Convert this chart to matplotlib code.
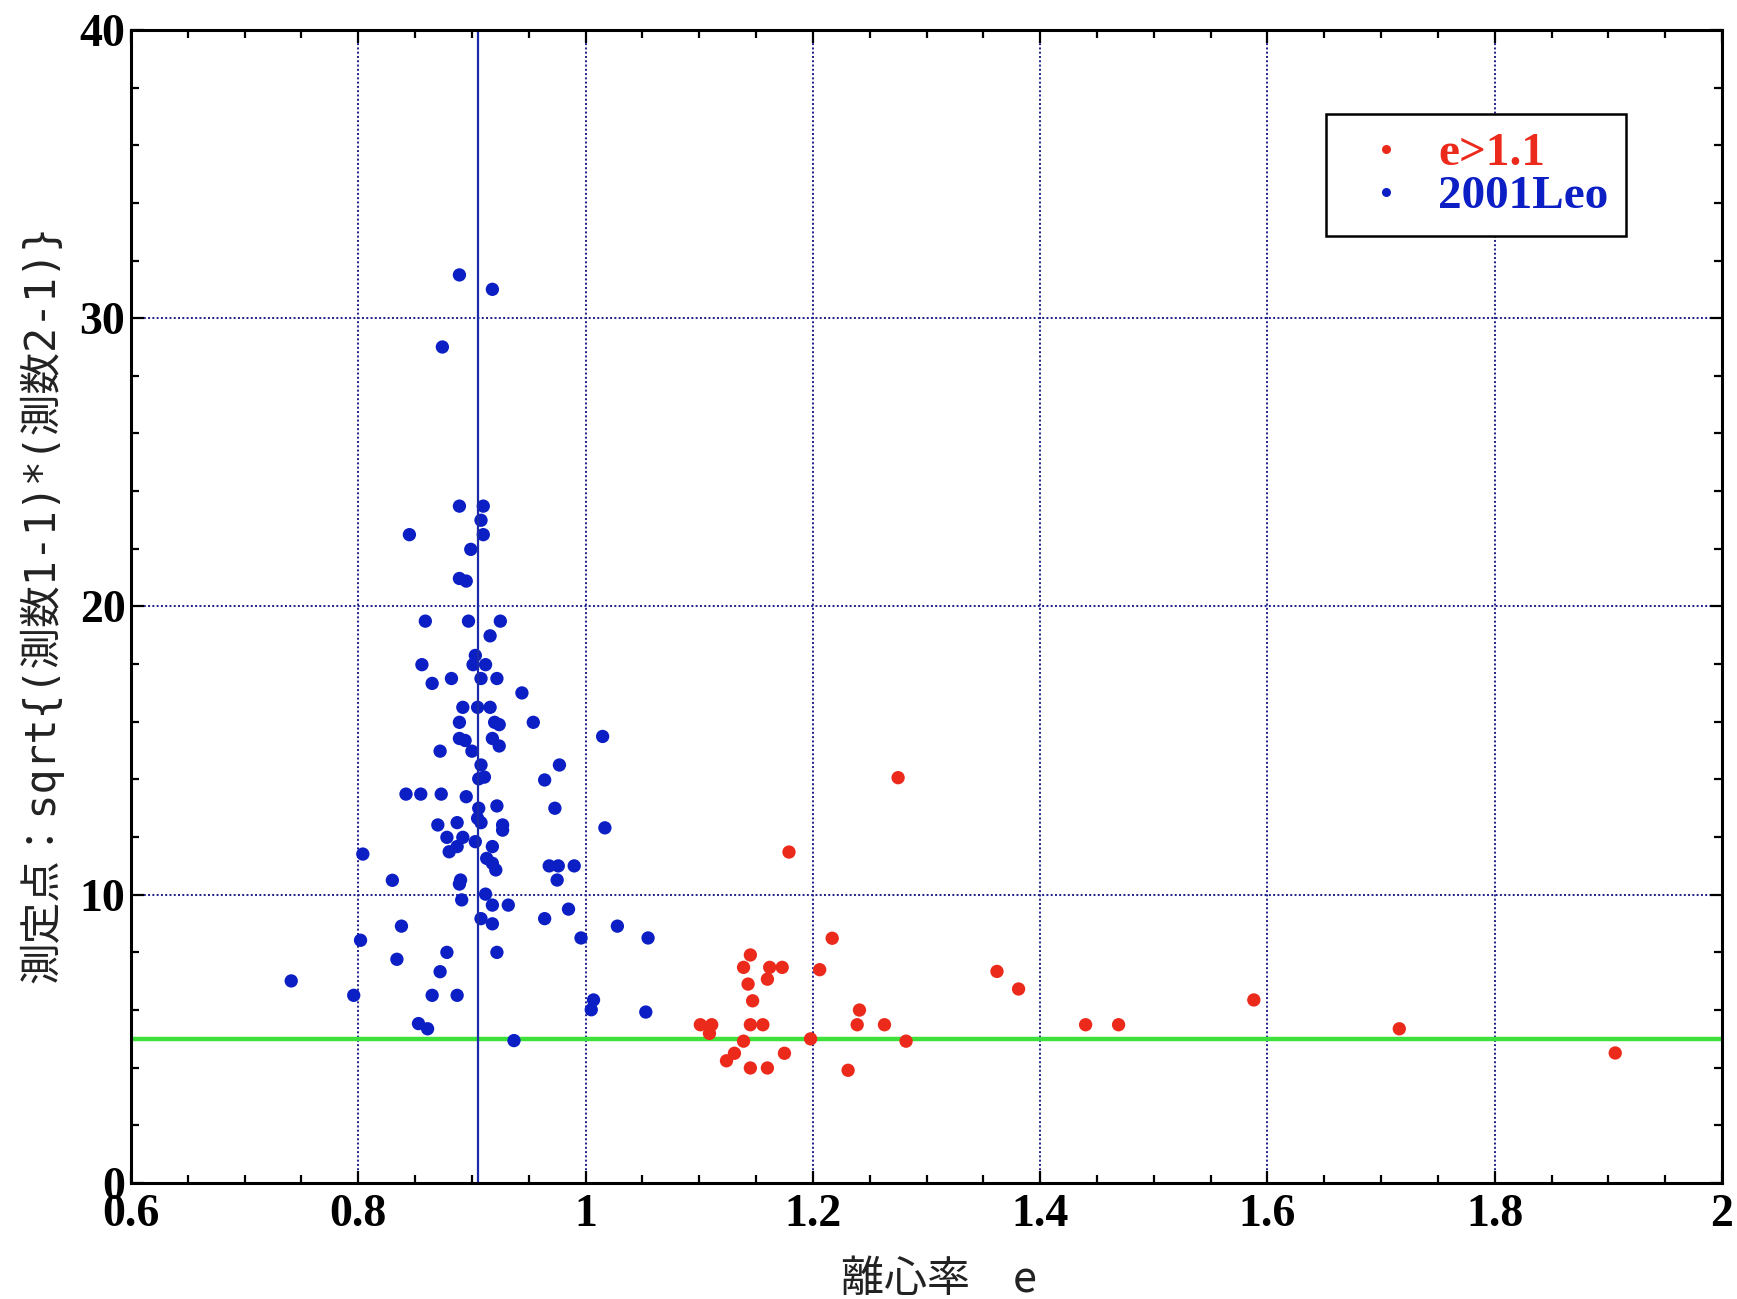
import matplotlib
matplotlib.use("Agg")
import matplotlib.pyplot as plt
from matplotlib.ticker import MultipleLocator
from matplotlib.lines import Line2D

# Orbital eccentricity and sqrt{(n1-1)*(n2-1)} for the 2001 Leonids
leo_e = [0.889, 0.918, 0.874, 0.889, 0.910, 0.908, 0.910, 0.845, 0.899, 0.889,
         0.895, 0.859, 0.897, 0.925, 0.916, 0.903, 0.901, 0.912, 0.856, 0.882,
         0.908, 0.922, 0.865, 0.944, 0.892, 0.905, 0.916, 0.889, 0.920, 0.924,
         0.954, 1.015, 0.889, 0.894, 0.918, 0.924, 0.872, 0.900, 0.977, 0.908,
         0.906, 0.911, 0.964, 0.842, 0.855, 0.873, 0.895, 0.922, 0.906, 0.973,
         0.905, 0.908, 0.870, 0.887, 0.927, 0.927, 1.017, 0.878, 0.892, 0.903,
         0.887, 0.880, 0.918, 0.804, 0.913, 0.918, 0.921, 0.968, 0.976, 0.990,
         0.830, 0.890, 0.889, 0.975, 0.912, 0.891, 0.918, 0.932, 0.985, 0.964,
         0.908, 0.918, 0.838, 1.028, 0.802, 0.996, 1.055, 0.878, 0.922, 0.834,
         0.872, 0.741, 0.796, 0.865, 0.887, 1.007, 1.005, 1.053, 0.853, 0.861,
         0.937]
leo_v = [31.5, 31.0, 29.0, 23.48, 23.48, 22.99, 22.49, 22.49, 21.98, 20.97,
         20.88, 19.49, 19.49, 19.49, 18.98, 18.30, 17.98, 17.98, 17.98, 17.50,
         17.50, 17.50, 17.33, 17.00, 16.50, 16.50, 16.50, 15.98, 15.98, 15.90,
         15.98, 15.49, 15.42, 15.35, 15.42, 15.16, 14.98, 14.98, 14.50, 14.50,
         14.02, 14.08, 13.98, 13.49, 13.49, 13.49, 13.40, 13.08, 13.00, 13.00,
         12.65, 12.50, 12.42, 12.50, 12.42, 12.24, 12.32, 11.99, 11.99, 11.84,
         11.67, 11.49, 11.67, 11.41, 11.26, 11.09, 10.86, 11.00, 11.00, 11.00,
         10.50, 10.51, 10.37, 10.51, 10.02, 9.82, 9.64, 9.64, 9.50, 9.17,
         9.17, 8.99, 8.91, 8.91, 8.42, 8.50, 8.50, 8.00, 8.00, 7.76,
         7.33, 7.01, 6.51, 6.51, 6.51, 6.35, 6.01, 5.93, 5.53, 5.35,
         4.94]

# Hyperbolic orbits (e > 1.1)
hyp_e = [1.275, 1.179, 1.217, 1.145, 1.139, 1.162, 1.173, 1.206, 1.160, 1.143,
         1.147, 1.362, 1.381, 1.241, 1.101, 1.111, 1.109, 1.145, 1.156, 1.239,
         1.263, 1.440, 1.469, 1.139, 1.198, 1.282, 1.131, 1.124, 1.175, 1.145,
         1.160, 1.231, 1.588, 1.716, 1.906]
hyp_v = [14.06, 11.48, 8.49, 7.91, 7.48, 7.48, 7.48, 7.40, 7.07, 6.90,
         6.32, 7.34, 6.73, 6.00, 5.49, 5.49, 5.19, 5.49, 5.49, 5.49,
         5.49, 5.49, 5.49, 4.92, 5.00, 4.92, 4.50, 4.24, 4.50, 3.99,
         3.99, 3.91, 6.35, 5.35, 4.51]

series_labels = ["e>1.1", "2001Leo"]
leo_mean_e = 0.905
threshold = 5.0

x_ticks = [0.6, 0.8, 1.0, 1.2, 1.4, 1.6, 1.8, 2.0]
x_ticklabels = ["0.6", "0.8", "1", "1.2", "1.4", "1.6", "1.8", "2"]
y_ticks = [0, 10, 20, 30, 40]

BLUE = "#0b1fc4"
RED = "#ec2a1c"
GREEN = "#3ee03a"
GRID = "#1e1e8a"

fig = plt.figure(figsize=(17.37, 12.99), dpi=100)
ax = fig.add_axes([0.0754, 0.0893, 0.916, 0.8877])

ax.axhline(threshold, color=GREEN, lw=3.2, zorder=2)
ax.scatter(leo_e, leo_v, s=92, color=BLUE, edgecolors="none", zorder=3)
ax.scatter(hyp_e, hyp_v, s=92, color=RED, edgecolors="none", zorder=3)
ax.axvline(leo_mean_e, color="#1a2aa8", lw=1.6, zorder=4)

ax.set_xlim(0.6, 2.0)
ax.set_ylim(0, 40)
ax.set_xticks(x_ticks)
ax.set_xticklabels(x_ticklabels)
ax.set_yticks(y_ticks)
ax.xaxis.set_minor_locator(MultipleLocator(0.05))
ax.yaxis.set_minor_locator(MultipleLocator(2))
ax.grid(True, which="major", linestyle=(0, (1, 1.2)), color=GRID, lw=1.4, zorder=1)

for sp in ax.spines.values():
    sp.set_linewidth(2.2)
    sp.set_zorder(5)
ax.tick_params(which="both", direction="in", top=True, right=True, width=1.6)
ax.tick_params(which="major", length=9)
ax.tick_params(which="minor", length=6)
ax.tick_params(axis="x", which="major", pad=8)
ax.tick_params(axis="y", which="major", pad=4)
for lab in ax.get_xticklabels() + ax.get_yticklabels():
    lab.set_fontfamily("Liberation Serif")
    lab.set_fontweight("bold")
    lab.set_fontsize(33)

handles = [Line2D([], [], ls="none", marker="o", ms=6.5, color=RED, mec="none"),
           Line2D([], [], ls="none", marker="o", ms=6.5, color=BLUE, mec="none")]
leg = ax.legend(handles, series_labels, loc="upper left",
                bbox_to_anchor=(0.751, 0.927), borderaxespad=0,
                prop={"family": "Liberation Serif", "weight": "bold", "size": 34},
                frameon=True, fancybox=False, edgecolor="black", framealpha=1,
                handlelength=1.8, handletextpad=0.2, borderpad=0.38,
                labelspacing=0.0)
leg.get_frame().set_linewidth(1.8)
for txt, col in zip(leg.get_texts(), [RED, BLUE]):
    txt.set_color(col)
leg.set_zorder(6)

fig.text(0.5407, 0.0146, "離心率　e", ha="center", va="center",
         fontsize=31, color="#222222", family=["Noto Sans CJK JP", "DejaVu Sans"])
fig.text(0.0236, 0.535, "測定点：sqrt{(測数1-1)*(測数2-1)}", ha="center", va="center",
         rotation=90, fontsize=30, color="#222222",
         family=["DejaVu Sans Mono", "Noto Sans CJK JP"])

fig.savefig("out.png", dpi=100)
